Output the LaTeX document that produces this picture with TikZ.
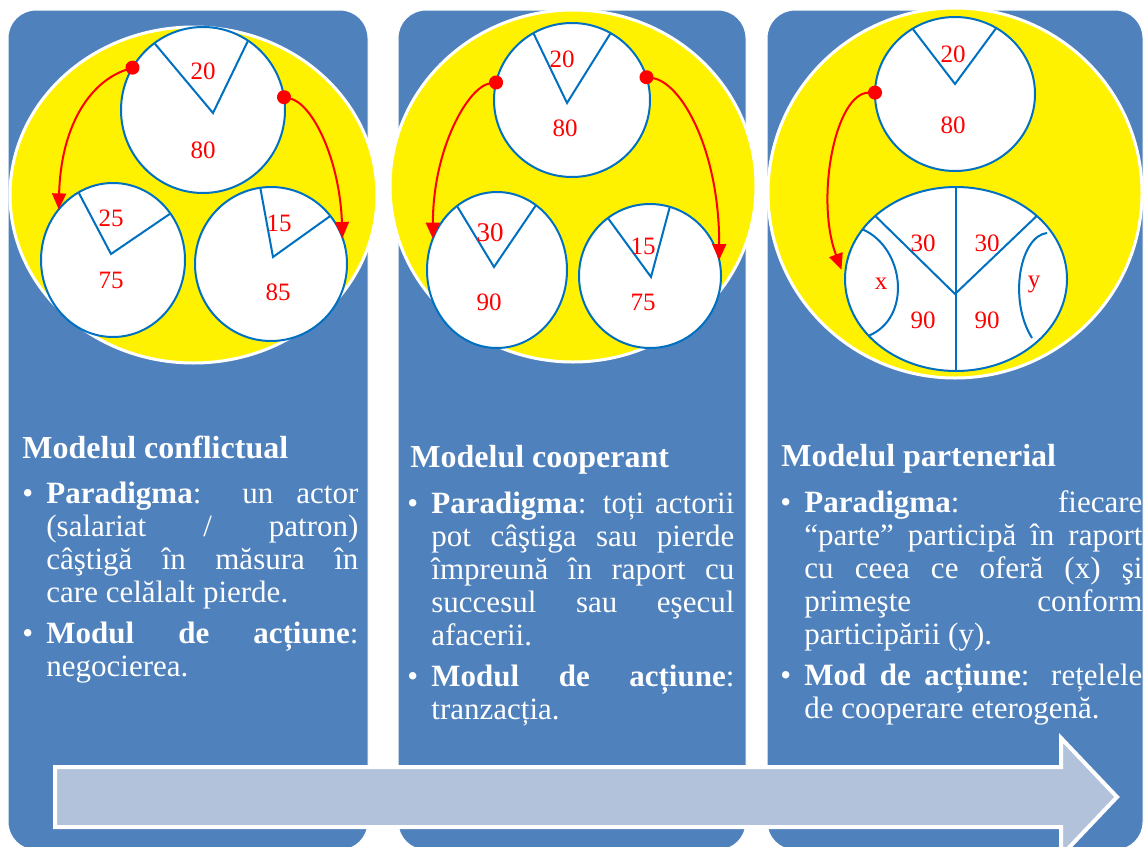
\documentclass[tikz,border=0pt]{standalone}
\usepackage{fontspec}
\setmainfont{Liberation Serif}
\usetikzlibrary{arrows.meta,positioning,shapes.geometric}

\definecolor{panelblue}{HTML}{4F81BD}
\definecolor{ringblue}{HTML}{0070C0}
\definecolor{arrowgray}{HTML}{B3C2DB}

% bullet paragraph with hanging indent
\newcommand{\pitem}{\hangindent=12pt\hangafter=1\noindent\makebox[12pt][l]{\textbullet}}

\begin{document}
\begin{tikzpicture} [x=0.5pt, y=-0.5pt,
    panel/.style={fill=panelblue, draw=white, line width=0.5pt, rounded corners=14pt},
    sun/.style={fill=yellow, draw=white, line width=1.5pt},
    pie/.style={ellipse, draw=ringblue, line width=1pt, fill=white, inner sep=0pt, outer sep=0pt},
    cut/.style={draw=ringblue, line width=1pt},
    share/.style={text=red, inner sep=0pt, font=\fontsize{12.5}{12.5}\selectfont},
    flow/.style={red, line width=1pt, {Circle[length=7pt]}-{Triangle[length=8pt,width=7pt]}, shorten <=-3.5pt},
    heading/.style={text=white, anchor=base west, inner sep=0pt, font=\bfseries\fontsize{16}{17}\selectfont},
    bullets/.style={text=white, anchor=base west, inner sep=0pt, align=justify, font=\fontsize{15.5}{16.5}\selectfont,
      execute at begin node={\tolerance=10000\hyphenpenalty=10000\parskip=4pt}}
  ]

\useasboundingbox (0,0) rectangle (1144,846);
\clip (0,0) rectangle (1144,846);
\fill[white] (0,0) rectangle (1144,846);

% panels
\path[panel] (8,10) rectangle (368,850);
\path[panel] (398,10) rectangle (746,850);
\path[panel] (767,10) rectangle (1143,850);

\path[sun] (193.5,195) ellipse [x radius=91.75pt, y radius=84pt];
\path[sun] (573,186) ellipse [x radius=91.5pt, y radius=88pt];
\path[sun] (955,193) ellipse [x radius=93.5pt, y radius=92.5pt];

% big arrow
\draw[white, line width=2pt, fill=arrowgray] (55,767) -- (1061,767) -- (1061,738) -- (1117,797)
      -- (1061,856) -- (1061,827) -- (55,827) -- cycle;

% modelul conflictual
\node[pie, minimum width=82pt, minimum height=83pt] (whole1) at (203,110) {};
\node[pie, minimum width=72pt, minimum height=77pt] (partL1) at (113,260) {};
\node[pie, minimum width=76pt, minimum height=77pt] (partR1) at (271,264) {};
\draw[cut] (whole1.126) -- (213,113) -- (whole1.57);
\draw[cut] (partL1.117) -- (111,254) -- (partL1.39);
\draw[cut] (partR1.98) -- (273,257) -- (partR1.39);
\node[share] (w1a) at (203,71) {20};
\node[share] (w1b) at (203,150) {80};
\node[share] (l1a) at (111,218) {25};
\node[share] (l1b) at (111,280) {75};
\node[share] (r1a) at (279,223) {15};
\node[share] (r1b) at (278,292) {85};
\draw[flow] (whole1.149) .. controls +(-45,15) and +(2,-80) .. (partL1.137);
\draw[flow] (whole1.9) .. controls +(28,6) and +(-3,-80) .. (partR1.20);

\node[heading] (title1) at (22,458) {Modelul conflictual};
\node[bullets, text width=168pt] (text1) at (22,503) {\pitem \textbf{Paradigma}: un actor\linebreak
  (salariat / patron)\linebreak câştigă în măsura în\linebreak care celălalt pierde.\par
  \pitem \textbf{Modul de acțiune}:\linebreak negocierea.\par};

% modelul cooperant
\node[pie, minimum width=78pt, minimum height=77pt] (whole2) at (572,100) {};
\node[pie, minimum width=70pt, minimum height=78pt] (partL2) at (497,270) {};
\node[pie, minimum width=71pt, minimum height=72pt] (partR2) at (650,276) {};
\draw[cut] (whole2.120) -- (567,103) -- (whole2.60);
\draw[cut] (partL2.122) -- (494,267) -- (partL2.59);
\draw[cut] (partR2.126) -- (651,277) -- (partR2.74);
\node[share] (w2a) at (562,59) {20};
\node[share] (w2b) at (565,128) {80};
\node[share, font=\fontsize{13.5}{13.5}\selectfont] (l2a) at (490,233) {30};
\node[share] (l2b) at (489,302) {90};
\node[share] (r2a) at (643,246) {15};
\node[share] (r2b) at (643,302) {75};
\draw[flow] (whole2.167) .. controls +(-28,4) and +(0,-90) .. (partL2.154);
\draw[flow] (whole2.17) .. controls +(35,5) and +(0,-110) .. (partR2.13);

\node[heading] (title2) at (410,467) {Modelul cooperant};
\node[bullets, text width=163.5pt] (text2) at (407,513) {\pitem \textbf{Paradigma}: toți actorii\linebreak
  pot câştiga sau pierde\linebreak împreună în raport cu\linebreak succesul sau eşecul\linebreak afacerii.\par
  \pitem \textbf{Modul de acțiune}:\linebreak tranzacția.\par};

% modelul partenerial
\node[pie, minimum width=80pt, minimum height=77pt] (whole3) at (955,94) {};
\node[pie, minimum width=111pt, minimum height=92pt] (joint3) at (956,279) {};
\draw[cut] (whole3.123) -- (955,84) -- (whole3.58);
\draw[cut] (joint3.north) -- (joint3.south);
\draw[cut] (joint3.142) -- (955,294) -- (joint3.38);
\draw[cut] (joint3.152) .. controls (905,248) and (912,318) .. (joint3.213);
\draw[cut] (1047,233) .. controls (1020,236) and (1008,300) .. (1032,338);
\node[share] (w3a) at (953,54) {20};
\node[share] (w3b) at (953,125) {80};
\node[share] (j3a) at (923,243) {30};
\node[share] (j3b) at (987,243) {30};
\node[share] (j3x) at (881,284) {x};
\node[share] (j3y) at (1034,284) {y};
\node[share] (j3c) at (923,320) {90};
\node[share] (j3d) at (987,320) {90};
\draw[flow, shorten >=5pt] (whole3.179) .. controls +(-40,0) and +(-30,-80) .. (joint3.west);

\node[heading] (title3) at (781,466) {Modelul partenerial};
\node[bullets, text width=181pt] (text3) at (780,512) {\pitem \textbf{Paradigma}: fiecare\linebreak
  “parte” participă în raport\linebreak cu ceea ce oferă (x) şi\linebreak primeşte conform\linebreak participării (y).\par
  \pitem \textbf{Mod de acțiune}: rețelele\linebreak de cooperare eterogenă.\par};

\end{tikzpicture}
\end{document}
